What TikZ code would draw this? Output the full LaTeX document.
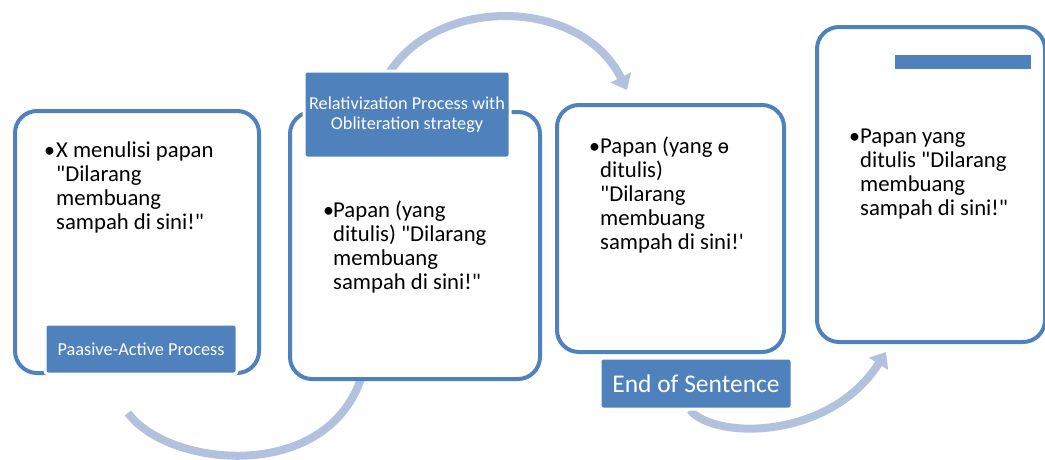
\documentclass[tikz,border=0pt]{standalone}
\usepackage{fontspec}
\newfontfamily\cfont{Carlito}
\newfontfamily\dvfont{DejaVu Sans}
\usetikzlibrary{arrows.meta}
\definecolor{mblue}{HTML}{4F81BD}
\definecolor{lblue}{HTML}{B2C1DE}
\tikzset{
  frame/.style={draw=mblue, line width=4pt, rounded corners=22pt, fill=white, anchor=north west, inner sep=0pt},
  lab/.style={fill=mblue, draw=white, line width=3pt, rounded corners=3pt, text=white, inner sep=0pt, align=center},
  flow/.style={draw=lblue, line width=8pt, -{Triangle[width=22pt,length=14pt]}},
  body/.style={anchor=base west, inner sep=0pt, font=\cfont\fontsize{22.7}{24}\selectfont},
  dot/.style={anchor=base west, inner sep=0pt, font=\cfont\fontsize{22}{24}\selectfont}
}
\newcommand{\lines}[1]{\begin{tabular}[t]{@{}l@{}}#1\end{tabular}}
\begin{document}
\begin{tikzpicture}[x=1pt,y=-1pt]
\useasboundingbox (0,0) rectangle (1045,459);
% connector end points
\coordinate (s1) at (128,413);
\coordinate (e1) at (368,350);
\coordinate (s2) at (385,80);
\coordinate (e2) at (627,90);
\coordinate (s3) at (690,410);
\coordinate (e3) at (886,352);
% curved flow arrows (drawn first, boxes cover their ends)
\draw[flow] (s1) .. controls (170,470) and (340,485) .. (e1);
\draw[flow] (s2) .. controls (430,-5) and (580,-5) .. (e2);
\draw[flow] (s3) .. controls (715,440) and (830,440) .. (e3);
% frames
\node[frame, minimum width=244pt, minimum height=262pt] (b1) at (13,109) {};
\node[frame, minimum width=250pt, minimum height=267pt] (b2) at (288,110) {};
\node[frame, minimum width=227pt, minimum height=247pt] (b3) at (555,103) {};
\node[frame, minimum width=228pt, minimum height=315pt] (b4) at (815,25) {};
% labels
\node[lab, minimum width=192pt, minimum height=50pt, font=\cfont\fontsize{18.3}{20}\selectfont] (l1) at (141,349) {Paasive-Active Process};
\node[lab, minimum width=206pt, minimum height=87pt, font=\cfont\fontsize{18.2}{20.5}\selectfont] (l2) at (407,114.5) {Relativization Process with\\Obliteration strategy};
\node[lab, minimum width=192pt, minimum height=51pt, font=\cfont\fontsize{25.5}{28}\selectfont] (l3) at (696,383.5) {End of Sentence};
\node[fill=mblue, inner sep=0pt, minimum width=136pt, minimum height=14pt, anchor=north west] (bar) at (895,55) {};
% texts
\node[dot] (d1) at (44,157) {\textbullet};
\node[body] (t1) at (56,157) {\lines{X menulisi papan\\"Dilarang\\membuang\\sampah di sini!"}};
\node[dot] (d2) at (323,217) {\textbullet};
\node[body] (t2) at (333,217) {\lines{Papan (yang\\ditulis) "Dilarang\\membuang\\sampah di sini!"}};
\node[dot] (d3) at (589,153) {\textbullet};
\node[body] (t3) at (600,153) {\lines{Papan (yang {\dvfont\fontsize{19}{20}\selectfont ɵ}\\ditulis)\\"Dilarang\\membuang\\sampah di sini!'}};
\node[dot] (d4) at (849,143) {\textbullet};
\node[body] (t4) at (860,143) {\lines{Papan yang\\ditulis "Dilarang\\membuang\\sampah di sini!"}};
\end{tikzpicture}
\end{document}
